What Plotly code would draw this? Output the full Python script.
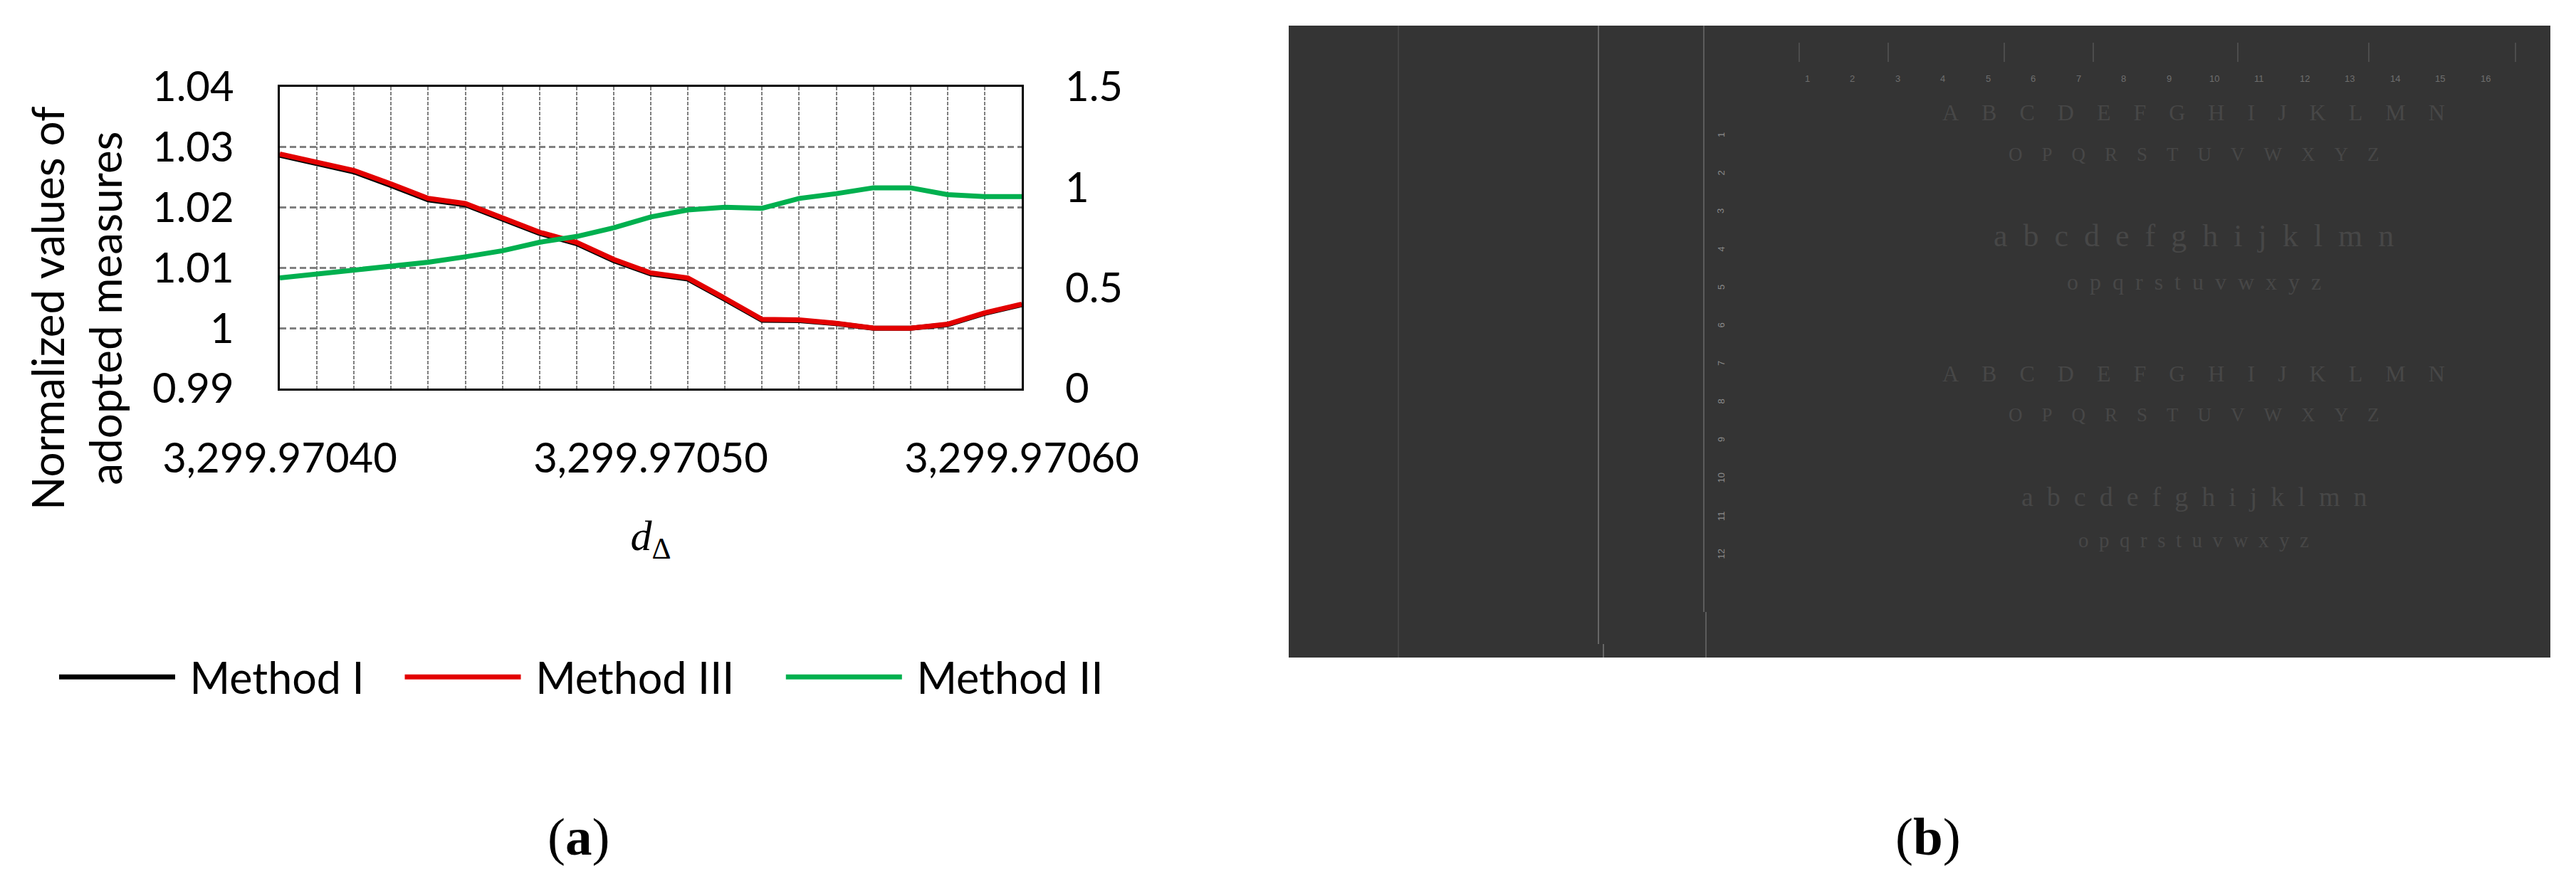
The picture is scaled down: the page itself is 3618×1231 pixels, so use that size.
import plotly.graph_objects as go

W, H = 3618, 1231

d_delta = [3299.97040, 3299.97041, 3299.97042, 3299.97043, 3299.97044, 3299.97045, 3299.97046,
           3299.97047, 3299.97048, 3299.97049, 3299.97050, 3299.97051, 3299.97052, 3299.97053,
           3299.97054, 3299.97055, 3299.97056, 3299.97057, 3299.97058, 3299.97059, 3299.97060]
method_1 = [1.02865, 1.02725, 1.02590, 1.02365, 1.02128, 1.02045, 1.01800, 1.01572, 1.01402, 1.01120,
            1.00900, 1.00815, 1.00478, 1.00132, 1.00126, 1.00075, 1.00000, 1.00000, 1.00058, 1.00245, 1.00390]
method_3 = [1.02888, 1.02749, 1.02614, 1.02391, 1.02151, 1.02067, 1.01822, 1.01591, 1.01422, 1.01140,
            1.00917, 1.00832, 1.00495, 1.00146, 1.00137, 1.00083, 1.00003, 1.00000, 1.00066, 1.00255, 1.00397]
method_2 = [0.550, 0.569, 0.585, 0.607, 0.628, 0.655, 0.685, 0.727, 0.756, 0.799,
            0.853, 0.888, 0.901, 0.896, 0.945, 0.969, 0.998, 0.998, 0.964, 0.954, 0.954]

x_ticks = [3299.97040, 3299.97050, 3299.97060]
x_labels = ["3,299.97040", "3,299.97050", "3,299.97060"]
y_ticks = [0.99, 1.0, 1.01, 1.02, 1.03, 1.04]
y_labels = ["0.99", "1", "1.01", "1.02", "1.03", "1.04"]
y2_ticks = [0, 0.5, 1, 1.5]
y2_labels = ["0", "0.5", "1", "1.5"]

# faint text of the screenshot in panel (b)
upper_1 = "A B C D E F G H I J K L M N"
upper_2 = "O P Q R S T U V W X Y Z"
lower_1 = "a b c d e f g h i j k l m n"
lower_2 = "o p q r s t u v w x y z"
ruler_v = ["1", "2", "3", "4", "5", "6", "7", "8", "9", "10", "11", "12"]
ruler_h = ["1", "2", "3", "4", "5", "6", "7", "8", "9", "10", "11", "12", "13", "14", "15", "16"]

FONT = "Lato"
GRID = "#808080"
PAGE = 8  # body margin of the page


def px(x):
    return (x - PAGE) / W


def py(y):
    return 1 - (y - PAGE) / H


fig = go.Figure()
fig.add_trace(go.Scatter(x=d_delta, y=method_1, name="\u00a0Method I\u00a0\u00a0\u00a0", mode="lines",
                         line=dict(color="#000000", width=7)))
fig.add_trace(go.Scatter(x=d_delta, y=method_3, name="\u00a0Method III\u00a0\u00a0\u00a0\u00a0", mode="lines",
                         line=dict(color="#e30000", width=7)))
fig.add_trace(go.Scatter(x=d_delta, y=method_2, name="\u00a0Method II", mode="lines", yaxis="y2",
                         line=dict(color="#00b04f", width=7)))

shapes = [dict(type="rect", xref="paper", yref="paper", x0=px(1810), x1=px(3582), y0=py(924), y1=py(36),
               fillcolor="#343434", line_width=0, layer="below")]
# window borders and toolbar separators in the screenshot
borders = [(1964, 36, 924, "#4a4a4a"), (2245, 36, 905, "#777777"), (2252, 905, 924, "#777777"),
           (2393, 36, 860, "#6a6a6a"), (2396, 860, 924, "#6a6a6a")]
for x in [2527, 2652, 2815, 2940, 3143, 3327, 3533]:
    borders.append((x, 60, 87, "#555555"))
for x0, y0, y1, col in borders:
    shapes.append(dict(type="line", xref="paper", yref="paper", x0=px(x0), x1=px(x0), y0=py(y0), y1=py(y1),
                       line=dict(color=col, width=1.5), layer="below"))

annotations = [
    dict(text="(<b>a</b>)", x=px(812), y=py(1175)),
    dict(text="(<b>b</b>)", x=px(2708), y=py(1175)),
]
for a in annotations:
    a.update(xref="paper", yref="paper", showarrow=False, xanchor="center", yanchor="middle",
             font=dict(family="Liberation Serif", size=75, color="#000000"))

annotations.append(dict(text="Normalized values of<br>adopted measures", x=px(106), y=py(433), xref="paper", yref="paper",
                        showarrow=False, textangle=-90, xanchor="center", yanchor="middle",
                        font=dict(family=FONT, size=62, color="#000000")))

rows = [(upper_1, 158, 32), (upper_2, 217, 27), (lower_1, 331, 44), (lower_2, 396, 32),
        (upper_1, 525, 32), (upper_2, 583, 27), (lower_1, 698, 38), (lower_2, 759, 29)]
for text, y, size in rows:
    gap = "\u2003" if text[0].isupper() else "\u2002"
    annotations.append(dict(text=text.replace(" ", gap), x=px(3081), y=py(y), xref="paper", yref="paper",
                            showarrow=False, xanchor="center", yanchor="middle",
                            font=dict(family="Liberation Serif", size=size, color="#474747")))
for i, digit in enumerate(ruler_v):
    annotations.append(dict(text=digit, x=px(2417), y=py(190 + i * 53.5), xref="paper", yref="paper",
                            showarrow=False, textangle=-90, xanchor="center", yanchor="middle",
                            font=dict(family="Liberation Sans", size=13, color="#8a8a8a")))
for i, digit in enumerate(ruler_h):
    annotations.append(dict(text=digit, x=px(2538 + i * 63.5), y=py(111), xref="paper", yref="paper",
                            showarrow=False, xanchor="center", yanchor="middle",
                            font=dict(family="Liberation Sans", size=13, color="#6e6e6e")))

fig.update_layout(
    width=W, height=H,
    margin=dict(l=0, r=0, t=0, b=0),
    paper_bgcolor="#ffffff", plot_bgcolor="#ffffff",
    font=dict(family=FONT, size=58, color="#000000"),
    shapes=shapes,
    annotations=annotations,
    showlegend=True,
    legend=dict(orientation="h", x=px(78), y=py(905), xanchor="left", yanchor="top",
                itemwidth=163, font=dict(family=FONT, size=61), bgcolor="rgba(0,0,0,0)"),
    xaxis=dict(
        domain=[px(393), px(1435)], range=[d_delta[0], d_delta[-1]], automargin=False,
        tickvals=x_ticks, ticktext=x_labels, ticklabelstandoff=46,
        showgrid=True, gridcolor=GRID, gridwidth=2, griddash="5px,2px",
        minor=dict(tickvals=d_delta, showgrid=True, gridcolor=GRID, gridwidth=2, griddash="5px,2px"),
        showline=True, linecolor="#000000", linewidth=2.5, mirror=True, zeroline=False,
        title=dict(text="<i>d</i><sub>\u0394</sub>", font=dict(family="Liberation Serif", size=60), standoff=56),
    ),
    yaxis=dict(
        domain=[py(546), py(122)], range=[0.99, 1.04], automargin=False,
        tickvals=y_ticks, ticktext=y_labels, ticklabelstandoff=50,
        showgrid=True, gridcolor=GRID, gridwidth=2.5, griddash="9px,5px",
        showline=True, linecolor="#000000", linewidth=2.5, mirror=True, zeroline=False,
    ),
    yaxis2=dict(
        overlaying="y", side="right", range=[0, 1.5], automargin=False,
        tickvals=y2_ticks, ticktext=y2_labels, ticklabelstandoff=60,
        showgrid=False, zeroline=False, showline=False,
    ),
)

fig.write_html("out.html")
